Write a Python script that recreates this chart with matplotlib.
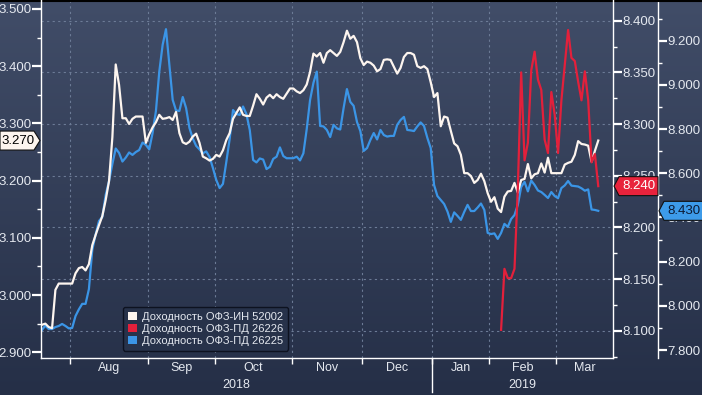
import matplotlib
matplotlib.use("Agg")
import matplotlib.pyplot as plt  # noqa: E402
import matplotlib.transforms as mtransforms  # noqa: E402
import numpy as np  # noqa: E402
from matplotlib.colors import LinearSegmentedColormap  # noqa: E402
from matplotlib.patches import Patch, Polygon  # noqa: E402
from matplotlib.ticker import MultipleLocator  # noqa: E402

plt.rcParams["font.family"] = ["Liberation Sans", "DejaVu Sans"]

# x axis = trading-day index, mid-Jul 2018 .. mid-Mar 2019
month_names = ["Aug", "Sep", "Oct", "Nov", "Dec", "Jan", "Feb", "Mar"]
month_starts = [8.5, 31.5, 51.5, 74.5, 95.5, 116.5, 133.5, 153.5]
year_names = ["2018", "2019"]
year_start = 116.5

legend_labels = ["Доходность ОФЗ-ИН 52002", "Доходность ОФЗ-ПД 26226",
                 "Доходность ОФЗ-ПД 26225"]

# ОФЗ-ИН 52002 (left axis)
ofz_in_52002 = [
    2.948, 2.950, 2.944, 2.942, 3.009, 3.020, 3.020, 3.020, 3.020, 3.020,
    3.038, 3.047, 3.049, 3.043, 3.054, 3.087, 3.105, 3.122, 3.138, 3.166,
    3.199, 3.276, 3.403, 3.367, 3.309, 3.309, 3.299, 3.308, 3.312, 3.312,
    3.312, 3.266, 3.281, 3.293, 3.302, 3.315, 3.308, 3.309, 3.311, 3.306,
    3.320, 3.283, 3.267, 3.264, 3.268, 3.277, 3.282, 3.266, 3.242, 3.239,
    3.235, 3.238, 3.245, 3.242, 3.253, 3.271, 3.283, 3.308, 3.318, 3.328,
    3.315, 3.313, 3.313, 3.331, 3.351, 3.343, 3.333, 3.345, 3.350, 3.344,
    3.351, 3.346, 3.343, 3.352, 3.361, 3.361, 3.356, 3.353, 3.358, 3.368,
    3.390, 3.422, 3.417, 3.423, 3.406, 3.423, 3.428, 3.423, 3.418, 3.425,
    3.442, 3.462, 3.448, 3.453, 3.442, 3.414, 3.402, 3.408, 3.406, 3.401,
    3.391, 3.395, 3.411, 3.412, 3.411, 3.399, 3.387, 3.397, 3.416, 3.423,
    3.423, 3.420, 3.400, 3.397, 3.400, 3.395, 3.372, 3.346, 3.353, 3.295,
    3.312, 3.310, 3.287, 3.265, 3.260, 3.245, 3.213, 3.213, 3.208, 3.196,
    3.201, 3.212, 3.199, 3.178, 3.163, 3.171, 3.151, 3.145, 3.172, 3.181,
    3.182, 3.196, 3.179, 3.201, 3.203, 3.229, 3.204, 3.211, 3.213, 3.230,
    3.214, 3.240, 3.213, 3.213, 3.213, 3.213, 3.228, 3.231, 3.233, 3.245,
    3.269, 3.264, 3.263, 3.261, 3.233, 3.252, 3.270,
]

# ОФЗ-ПД 26225 (outer right axis)
ofz_pd_26225 = [
    7.891, 7.911, 7.895, 7.895, 7.904, 7.909, 7.918, 7.909, 7.898, 7.900,
    7.954, 7.984, 8.009, 8.009, 8.076, 8.253, 8.323, 8.384, 8.402, 8.502,
    8.565, 8.642, 8.712, 8.692, 8.653, 8.671, 8.694, 8.683, 8.696, 8.705,
    8.739, 8.728, 8.708, 8.782, 8.882, 9.060, 9.181, 9.252, 9.090, 8.932,
    8.884, 8.882, 8.945, 8.895, 8.805, 8.757, 8.724, 8.708, 8.690, 8.699,
    8.674, 8.624, 8.570, 8.533, 8.552, 8.651, 8.755, 8.886, 8.868, 8.864,
    8.902, 8.868, 8.796, 8.660, 8.649, 8.667, 8.662, 8.619, 8.629, 8.665,
    8.675, 8.717, 8.678, 8.668, 8.668, 8.668, 8.675, 8.658, 8.690, 8.800,
    8.932, 9.009, 9.060, 8.814, 8.812, 8.796, 8.764, 8.819, 8.803, 8.798,
    8.895, 8.981, 8.923, 8.905, 8.832, 8.791, 8.701, 8.714, 8.751, 8.782,
    8.753, 8.796, 8.773, 8.766, 8.769, 8.769, 8.819, 8.841, 8.855, 8.796,
    8.794, 8.791, 8.812, 8.830, 8.814, 8.760, 8.714, 8.547, 8.497, 8.479,
    8.461, 8.427, 8.380, 8.423, 8.407, 8.389, 8.425, 8.457, 8.429, 8.429,
    8.445, 8.463, 8.434, 8.330, 8.325, 8.328, 8.303, 8.330, 8.371, 8.357,
    8.393, 8.411, 8.457, 8.538, 8.561, 8.518, 8.567, 8.547, 8.522, 8.515,
    8.502, 8.488, 8.515, 8.497, 8.487, 8.533, 8.545, 8.565, 8.544, 8.542,
    8.540, 8.532, 8.521, 8.527, 8.436, 8.434, 8.430,
]

# ОФЗ-ПД 26226 (inner right axis), starts trading late January
ofz_pd_26226_start = 137
ofz_pd_26226 = [
    8.101, 8.160, 8.151, 8.151, 8.160, 8.238, 8.350, 8.265, 8.282, 8.352,
    8.370, 8.343, 8.333, 8.285, 8.272, 8.331, 8.309, 8.272, 8.323, 8.357,
    8.391, 8.364, 8.361, 8.341, 8.323, 8.351, 8.323, 8.263, 8.271, 8.240,
]

C_WHITE = "#fdf5ef"
C_RED = "#e3203b"
C_BLUE = "#3b95e6"
C_TXT = "#e4e8ef"
C_GRID = "#6c7b96"

fig = plt.figure(figsize=(7.02, 3.95), dpi=100)

# background gradient over the whole figure
bg = fig.add_axes([0, 0, 1, 1], zorder=-10)
cmap = LinearSegmentedColormap.from_list("bg", ["#252f47", "#414d68"])
bg.imshow(np.linspace(0, 1, 256)[:, None], aspect="auto", cmap=cmap,
          origin="lower", extent=[0, 1, 0, 1])
bg.axis("off")

ax = fig.add_axes([41 / 702, 37 / 395, 572 / 702, 358 / 395], zorder=2)
ax.patch.set_visible(False)
ax_b = ax.twinx()
ax_b.set_zorder(1)
ax_r = ax.twinx()
ax_r.set_zorder(3)

x_all = np.arange(len(ofz_in_52002))
x_red = np.arange(ofz_pd_26226_start, ofz_pd_26226_start + len(ofz_pd_26226))

ax.plot(x_all, ofz_in_52002, color=C_WHITE, lw=1.6)
ax_b.plot(x_all, ofz_pd_26225, color=C_BLUE, lw=1.6)
ax_r.plot(x_red, ofz_pd_26226, color=C_RED, lw=1.6)

x_lo, x_hi = -0.3, 170.4
ax.set_xlim(x_lo, x_hi)
ax.set_ylim(2.8899, 3.5157)
ax_r.set_ylim(8.0738, 8.420)
ax_b.set_ylim(7.764, 9.384)

# grid: horizontal at inner-right ticks, vertical at month starts (on bottom axes)
ax_r.yaxis.set_major_locator(MultipleLocator(0.05))
ax_r.yaxis.set_minor_locator(MultipleLocator(0.025))
hgrid = mtransforms.blended_transform_factory(ax.transAxes, ax_r.transData)
for v in np.arange(8.10, 8.401, 0.05):
    ax_b.plot([0, 1], [v, v], transform=hgrid, color=C_GRID, lw=0.8,
              ls=(0, (2, 3)), zorder=0)
for m in month_starts:
    ax_b.axvline(m, color=C_GRID, lw=0.8, ls=(0, (2, 3)), zorder=0)

for a in (ax, ax_b, ax_r):
    for s in a.spines.values():
        s.set_visible(False)
        s.set_color("white")
        s.set_linewidth(1.0)
ax.spines["left"].set_visible(True)
ax.spines["bottom"].set_visible(True)
ax_r.spines["right"].set_visible(True)
ax_b.spines["right"].set_visible(True)
ax_b.spines["right"].set_position(("outward", 32.4))

ax.yaxis.set_major_locator(MultipleLocator(0.1))
ax.yaxis.set_minor_locator(MultipleLocator(0.05))
ax_b.yaxis.set_major_locator(MultipleLocator(0.2))
ax_b.yaxis.set_minor_locator(MultipleLocator(0.1))
for a in (ax, ax_b, ax_r):
    a.yaxis.set_major_formatter(plt.FormatStrFormatter("%.3f"))
    a.tick_params(axis="y", which="major", length=6.5, width=1.6, pad=0.5,
                  colors="white", labelcolor=C_TXT, labelsize=9.5)
    a.tick_params(axis="y", which="minor", length=3, width=1, colors="white")

# month boundaries as ticks, month names centred between them
centers = [(a + b) / 2 for a, b in zip(month_starts, month_starts[1:] + [x_hi])]
ax.set_xticks(month_starts)
ax.set_xticklabels([])
ax.set_xticks(centers, minor=True)
ax.set_xticklabels(month_names, minor=True)
ax.tick_params(axis="x", which="major", length=4, width=1, colors="white")
ax.tick_params(axis="x", which="minor", length=0, pad=3, labelcolor=C_TXT,
               labelsize=9)

xt = mtransforms.blended_transform_factory(ax.transData, ax.transAxes)
year_centres = [(x_lo + year_start) / 2, (year_start + x_hi) / 2]
for c, yname in zip(year_centres, year_names):
    ax.text(c, -0.075, yname, transform=xt, ha="center", va="center",
            color=C_TXT, fontsize=9)
ax.plot([year_start, year_start], [0, -0.095], transform=xt, color="white",
        lw=1, clip_on=False)

handles = [Patch(facecolor=c, edgecolor="none") for c in (C_WHITE, C_RED, C_BLUE)]
leg = ax_r.legend(handles, legend_labels, loc="lower left",
                  bbox_to_anchor=(0.133, 0.005), fontsize=8, frameon=True,
                  handlelength=0.8, handleheight=0.8, handletextpad=0.5,
                  labelspacing=0.15, borderpad=0.45, labelcolor=C_TXT,
                  fancybox=True)
leg.get_frame().set_facecolor("#27324a")
leg.get_frame().set_edgecolor("#0d1220")
leg.get_frame().set_alpha(1)
leg.get_frame().set_linewidth(1.0)

# last-value tags on the axes
ident = mtransforms.IdentityTransform()


def tag(y, x0, width, tip_left, face, text_color, text):
    h = 9.5
    if tip_left:
        pts = [(x0, y), (x0 + 5, y + h), (x0 + width, y + h),
               (x0 + width, y - h), (x0 + 5, y - h)]
        tx = x0 + 5 + (width - 5) / 2
    else:
        pts = [(x0, y + h), (x0 + width - 6, y + h), (x0 + width, y),
               (x0 + width - 6, y - h), (x0, y - h)]
        tx = x0 + (width - 6) / 2 + 1
    fig.add_artist(Polygon(pts, closed=True, facecolor=face, edgecolor="#111111",
                           lw=0.8, transform=ident, zorder=5))
    fig.text(tx, y, text, transform=ident, ha="center", va="center",
             color=text_color, fontsize=9.5, zorder=6)


y_w = ax.transData.transform((0, ofz_in_52002[-1]))[1]
y_r = ax_r.transData.transform((0, ofz_pd_26226[-1]))[1]
y_b = ax_b.transData.transform((0, ofz_pd_26225[-1]))[1]
tag(y_w, 0, 40, False, C_WHITE, "black", f"{ofz_in_52002[-1]:.3f}")
tag(y_r, 614, 44, True, "#e8233c", "white", f"{ofz_pd_26226[-1]:.3f}")
tag(y_b, 659, 44, True, "#3d9be9", "#0c1a33", f"{ofz_pd_26225[-1]:.3f}")

fig.add_artist(plt.Line2D([0, 702], [394.5, 394.5], color="black", lw=1.5,
                          transform=ident))

fig.savefig("out.png", dpi=100)
